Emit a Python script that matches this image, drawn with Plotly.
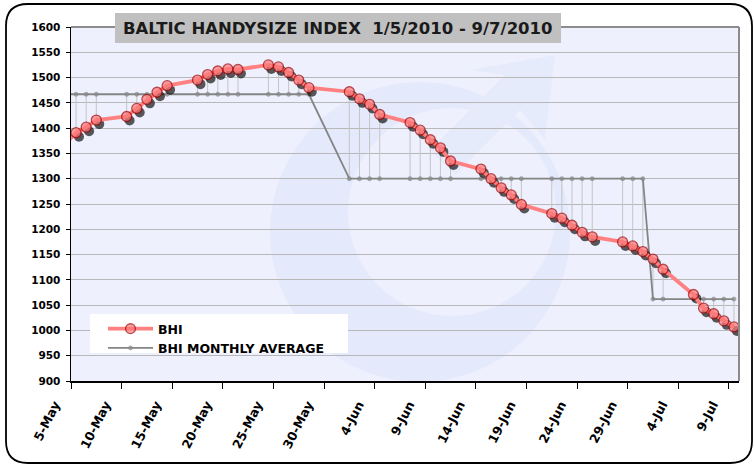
import pandas as pd
import plotly.graph_objects as go

# ---------------- data ----------------
dates = [
    "2010-05-04", "2010-05-05", "2010-05-06", "2010-05-07", "2010-05-10", "2010-05-11",
    "2010-05-12", "2010-05-13", "2010-05-14", "2010-05-17", "2010-05-18", "2010-05-19",
    "2010-05-20", "2010-05-21", "2010-05-24", "2010-05-25", "2010-05-26", "2010-05-27",
    "2010-05-28",
    "2010-06-01", "2010-06-02", "2010-06-03", "2010-06-04", "2010-06-07", "2010-06-08",
    "2010-06-09", "2010-06-10", "2010-06-11", "2010-06-14", "2010-06-15", "2010-06-16",
    "2010-06-17", "2010-06-18", "2010-06-21", "2010-06-22", "2010-06-23", "2010-06-24",
    "2010-06-25", "2010-06-28", "2010-06-29", "2010-06-30",
    "2010-07-01", "2010-07-02", "2010-07-05", "2010-07-06", "2010-07-07", "2010-07-08",
    "2010-07-09",
]
bhi = [
    1370, 1391, 1402, 1416, 1423, 1439, 1457, 1471, 1484, 1495, 1506, 1513, 1517, 1516,
    1525, 1521, 1510, 1495, 1480,
    1472, 1458, 1447, 1427, 1411, 1396, 1377, 1361, 1335, 1319, 1300, 1282, 1268, 1249,
    1231, 1222, 1208, 1194, 1185, 1175, 1167, 1156,
    1141, 1121, 1071, 1044, 1033, 1019, 1007,
]
bhi_monthly_avg = [
    1467, 1467, 1467, 1467, 1467, 1467, 1467, 1467, 1467, 1467, 1467, 1467, 1467, 1467,
    1467, 1467, 1467, 1467, 1467,
    1300, 1300, 1300, 1300, 1300, 1300, 1300, 1300, 1300, 1300, 1300, 1300, 1300, 1300,
    1300, 1300, 1300, 1300, 1300, 1300, 1300, 1300,
    1062, 1062, 1062, 1062, 1062, 1062, 1062,
]
tick_dates = [
    "2010-05-05", "2010-05-10", "2010-05-15", "2010-05-20", "2010-05-25", "2010-05-30",
    "2010-06-04", "2010-06-09", "2010-06-14", "2010-06-19", "2010-06-24", "2010-06-29",
    "2010-07-04", "2010-07-09",
]
tick_labels = [
    "5-May", "10-May", "15-May", "20-May", "25-May", "30-May", "4-Jun", "9-Jun",
    "14-Jun", "19-Jun", "24-Jun", "29-Jun", "4-Jul", "9-Jul",
]
title_text = "BALTIC HANDYSIZE INDEX  1/5/2010 - 9/7/2010"

# ---------------- layout geometry ----------------
W, H = 754, 466
ML, MR, MT, MB = 71, 15, 27, 85
PW, PH = W - ML - MR, H - MT - MB


def px_x(p):
    return (p - ML) / PW


def px_y(p):
    return (H - MB - p) / PH


FONT = "DejaVu Sans"
X_RANGE = ["2010-05-05", "2010-07-10"]

# points sit in the middle of each day (Excel "between tick marks")
x = pd.to_datetime(dates) + pd.Timedelta(hours=12)
x_shadow = x + pd.Timedelta(hours=7)
bhi_shadow = [v - 8 for v in bhi]
# the first point lies left of the plot area: only its line segment shows
marker_sizes = [0] + [10] * (len(dates) - 1)
avg_marker_sizes = [0] + [4] * (len(dates) - 1)

# high-low lines between the two series
hl_x, hl_y = [], []
for xi, a, b in zip(x, bhi_monthly_avg, bhi):
    hl_x += [xi, xi, None]
    hl_y += [a, b, None]

fig = go.Figure()

fig.add_trace(go.Scatter(
    x=hl_x, y=hl_y, mode="lines", line=dict(color="#c4c4c4", width=1),
    showlegend=False, hoverinfo="skip"))

fig.add_trace(go.Scatter(
    x=x, y=bhi_monthly_avg, mode="lines+markers", name="BHI MONTHLY AVERAGE",
    line=dict(color="#858585", width=1.8),
    marker=dict(color="#8a8a8a", size=avg_marker_sizes, symbol="circle"),
    legendrank=2))

fig.add_trace(go.Scatter(
    x=x_shadow, y=bhi_shadow, mode="markers",
    marker=dict(color="rgba(0,0,0,0.92)", size=marker_sizes, line=dict(width=0)),
    showlegend=False, hoverinfo="skip"))

fig.add_trace(go.Scatter(
    x=x, y=bhi, mode="lines+markers", name="BHI",
    line=dict(color="#ff8080", width=3.8),
    marker=dict(color="#ff7878", size=marker_sizes, line=dict(color="#a00000", width=1.3)),
    legendrank=1))


def circle(cx, cy, r, color):
    return dict(type="circle", xref="paper", yref="paper",
                x0=px_x(cx - r), x1=px_x(cx + r), y0=px_y(cy + r), y1=px_y(cy - r),
                fillcolor=color, line=dict(width=0), layer="below")


# ---------------- shapes ----------------
L, R, T, B = px_x(6), px_x(752), px_y(4), px_y(463)
rx, ry = 22 / PW, 22 / PH
border_path = (
    f"M {L+rx} {T} L {R-rx} {T} Q {R} {T} {R} {T-ry} L {R} {B+ry} "
    f"Q {R} {B} {R-rx} {B} L {L+rx} {B} Q {L} {B} {L} {B+ry} "
    f"L {L} {T-ry} Q {L} {T} {L+rx} {T} Z"
)
shapes = [
    # faint watermark
    circle(420, 232, 150, "#e4e9fc"),
    circle(452, 212, 104, "#eef0fd"),
    dict(type="path", xref="paper", yref="paper", layer="below",
         path=(f"M {px_x(430)} {px_y(150)} L {px_x(505)} {px_y(75)} "
               f"L {px_x(470)} {px_y(70)} L {px_x(555)} {px_y(55)} "
               f"L {px_x(545)} {px_y(140)} L {px_x(520)} {px_y(110)} "
               f"L {px_x(455)} {px_y(175)} Z"),
         fillcolor="#e6ebfc", line=dict(width=0)),
    dict(type="path", xref="paper", yref="paper", path=border_path,
         line=dict(color="#000000", width=1.8), layer="above"),
    # plot-area border (top / right)
    dict(type="line", xref="paper", yref="paper", x0=0, x1=1, y0=1, y1=1,
         line=dict(color="#8c8c8c", width=2), layer="above"),
    dict(type="line", xref="paper", yref="paper", x0=1, x1=1, y0=0, y1=1,
         line=dict(color="#8c8c8c", width=2), layer="above"),
    # title box
    dict(type="rect", xref="paper", yref="paper",
         x0=px_x(115), x1=px_x(561), y0=px_y(43), y1=px_y(13),
         fillcolor="#c0c0c0", line=dict(width=0), layer="above"),
    # legend box
    dict(type="rect", xref="paper", yref="paper",
         x0=px_x(90), x1=px_x(348), y0=px_y(353), y1=px_y(314),
         fillcolor="#ffffff", line=dict(width=0), layer="above"),
]

annotations = [
    dict(text=title_text, xref="paper", yref="paper",
         x=px_x(338), y=px_y(28.5), xanchor="center", yanchor="middle",
         showarrow=False,
         font=dict(family=FONT, size=16.5, color="#1a1a1a", weight="bold")),
]

fig.update_layout(
    width=W, height=H,
    margin=dict(l=ML, r=MR, t=MT, b=MB, autoexpand=False),
    paper_bgcolor="#ffffff",
    plot_bgcolor="#eef0fd",
    shapes=shapes,
    annotations=annotations,
    showlegend=True,
    legend=dict(
        x=px_x(103), y=px_y(314), xanchor="left", yanchor="top",
        bgcolor="rgba(0,0,0,0)", borderwidth=0,
        font=dict(family=FONT, size=12.5, color="#000000", weight="bold"),
        tracegroupgap=0, itemwidth=45,
    ),
    xaxis=dict(
        type="date",
        range=X_RANGE, autorange=False,
        tickmode="array", tickvals=tick_dates, ticktext=tick_labels,
        tickangle=-63, ticklabelshift=-16, ticklabelstandoff=4,
        ticks="outside", ticklen=6, tickcolor="#000000", tickwidth=1,
        showline=True, linecolor="#000000", linewidth=1.5,
        showgrid=False, zeroline=False,
        tickfont=dict(family=FONT, size=12.5, color="#000000", weight="bold"),
    ),
    xaxis2=dict(
        type="date", overlaying="x", range=X_RANGE, autorange=False,
        tickmode="array", tickvals=tick_dates, ticktext=[""] * len(tick_dates),
        ticks="inside", ticklen=6, tickcolor="#000000", tickwidth=1,
        showline=False, showgrid=False, zeroline=False, side="bottom",
        showticklabels=False,
    ),
    yaxis=dict(
        range=[900, 1600], autorange=False, dtick=50, tick0=900,
        ticks="outside", ticklen=4, tickcolor="#000000",
        ticklabelstandoff=3,
        showline=True, linecolor="#000000", linewidth=1.5,
        showgrid=True, gridcolor="#b8b8b8", gridwidth=1,
        zeroline=False,
        tickfont=dict(family=FONT, size=10.5, color="#000000", weight="bold"),
    ),
    hovermode=False,
)

fig.write_html("out.html",
               config={"displayModeBar": False, "staticPlot": True},
               post_script="document.body.style.margin='0';"
                           "document.body.style.overflow='hidden';")
